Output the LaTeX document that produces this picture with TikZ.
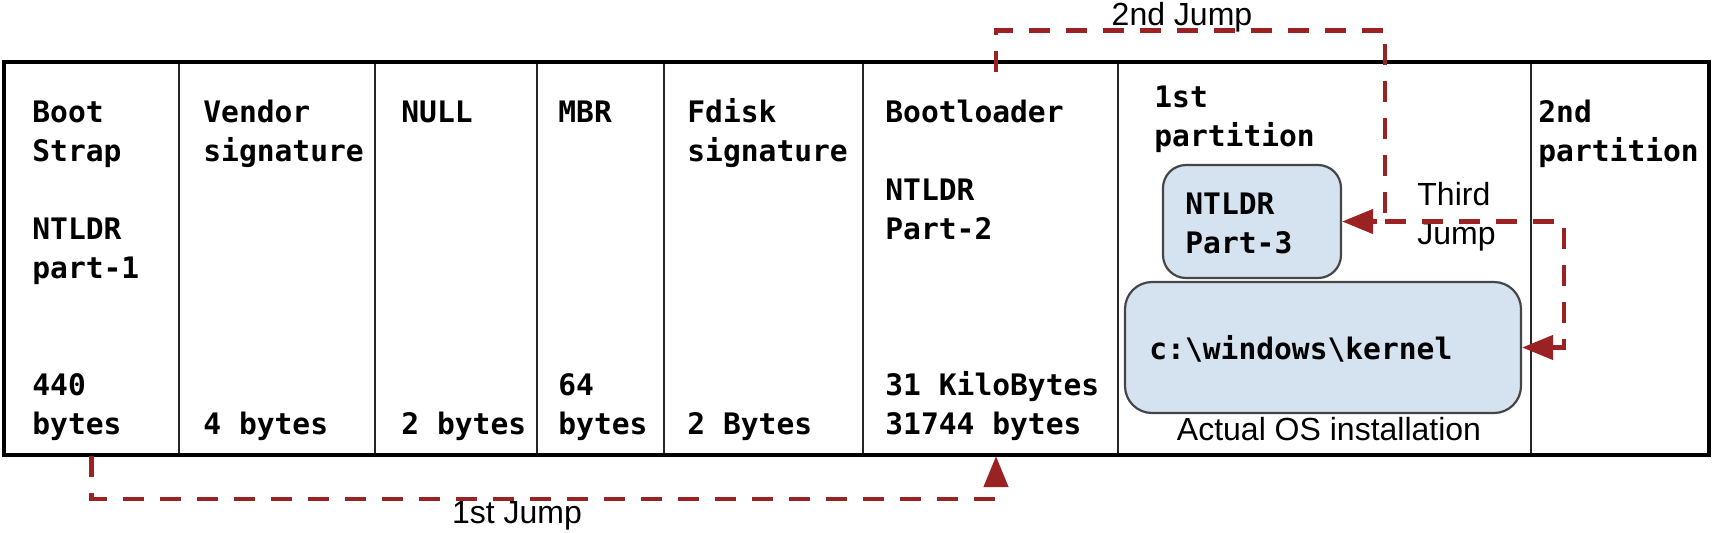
\documentclass[tikz,border=0pt]{standalone}
\usepackage{fontspec}
\setmainfont{Liberation Sans}
\newfontfamily\monofam{DejaVu Sans Mono}
\usetikzlibrary{arrows.meta,fit}
\definecolor{jumpred}{RGB}{155,34,34}
\definecolor{boxblue}{RGB}{213,226,239}
\definecolor{boxline}{RGB}{70,70,70}
\newcommand\colt[1]{\begin{tabular}[t]{@{}l@{}}#1\end{tabular}}
\begin{document}
\begin{tikzpicture}[x=0.5pt,y=-0.5pt,
  cell/.style={draw=black!85, line width=1.1pt, inner sep=0pt},
  outer/.style={draw=black, line width=2pt, inner sep=0pt},
  lbl/.style={anchor=base west, inner sep=0pt, font=\monofam\bfseries\fontsize{14.8}{19.5}\selectfont},
  sans/.style={inner sep=0pt, font=\fontsize{16}{19.5}\selectfont},
  osbox/.style={draw=boxline, line width=1.1pt, fill=boxblue, inner sep=0pt},
  jump/.style={draw=jumpred, line width=2.25pt, dash pattern=on 10.5pt off 8pt,
    -{Triangle[length=15.5pt,width=12pt]}}]
\useasboundingbox (0,0) rectangle (1714,532);
% cells
\node[cell, fit={(4,62) (179,455)}] (boot) {};
\node[cell, fit={(179,62) (375,455)}] (vendor) {};
\node[cell, fit={(375,62) (537,455)}] (null) {};
\node[cell, fit={(537,62) (664,455)}] (mbr) {};
\node[cell, fit={(664,62) (863,455)}] (fdisk) {};
\node[cell, fit={(863,62) (1118,455)}] (bootl) {};
\node[cell, fit={(1118,62) (1531,455)}] (part1) {};
\node[cell, fit={(1531,62) (1709,455)}] (part2) {};
\node[outer, fit={(4,62) (1709,455)}] (disk) {};
% texts
\node[lbl] (t1a) at (32,122) {\colt{Boot\\Strap\\ \\NTLDR\\part-1}};
\node[lbl] (t1b) at (32,395) {\colt{440\\bytes}};
\node[lbl] (t2a) at (203,122) {\colt{Vendor\\signature}};
\node[lbl] (t2b) at (203,434) {4 bytes};
\node[lbl] (t3a) at (401,122) {NULL};
\node[lbl] (t3b) at (401,434) {2 bytes};
\node[lbl] (t4a) at (558,122) {MBR};
\node[lbl] (t4b) at (558,395) {\colt{64\\bytes}};
\node[lbl] (t5a) at (687,122) {\colt{Fdisk\\signature}};
\node[lbl] (t5b) at (687,434) {2 Bytes};
\node[lbl] (t6a) at (885,122) {\colt{Bootloader\\ \\NTLDR\\Part-2}};
\node[lbl] (t6b) at (885,395) {\colt{31 KiloBytes\\31744 bytes}};
\node[lbl] (t7a) at (1154,107) {\colt{1st\\partition}};
\node[lbl] (t8a) at (1538,122) {\colt{2nd\\partition}};
% OS boxes
\node[osbox, rounded corners=11.5pt, fit={(1163,165) (1341,278)}] (nt3) {};
\node[lbl] (nt3t) at (1185,214) {\colt{NTLDR\\Part-3}};
\node[osbox, rounded corners=13.5pt, fit={(1125,282) (1521,413)}] (kern) {};
\node[lbl] (kernt) at (1149,359) {c:\textbackslash windows\textbackslash kernel};
\node[sans, anchor=base] (actual) at (1329,440) {Actual OS installation};
% jump labels
\node[sans, anchor=base] (l1) at (517,523) {1st Jump};
\node[sans, anchor=base] (l2) at (1182,25) {2nd Jump};
\node[sans, anchor=base west] (l3) at (1417,205) {\colt{Third\\Jump}};
% jumps
\coordinate (t2) at (1385,30.5);
\coordinate (t3) at (1564,221.5);
\draw[jump] (boot.south) -- ++(0,43) -| ([xshift=2.75pt]bootl.south);
\draw[jump] ([xshift=2.75pt,yshift=-5.5pt]bootl.north) |- (t2) |- (nt3.east);
\draw[jump] (t2 |- nt3.east) -- (t3) |- (kern.east);
\end{tikzpicture}
\end{document}
